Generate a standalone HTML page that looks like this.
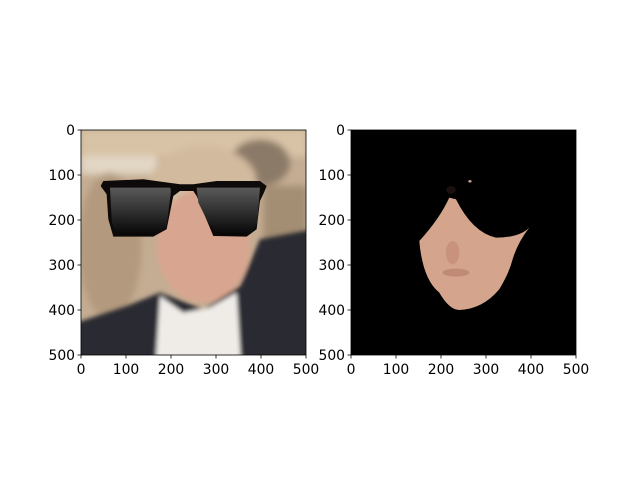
<!DOCTYPE html>
<html><head><meta charset="utf-8"><style>
body{margin:0;background:#fff;width:640px;height:480px;overflow:hidden}
svg text{font-family:"DejaVu Sans","Liberation Sans",sans-serif;font-size:13.9px;fill:#000}
</style></head><body>
<svg id="fig" width="640" height="480">
<defs>
<linearGradient id="lens" x1="0" y1="0" x2="0" y2="1"><stop offset="0" stop-color="#5a5a5a"/><stop offset="1" stop-color="#050505"/></linearGradient>
<filter id="blur"><feGaussianBlur stdDeviation="10"/></filter>
<filter id="blur2"><feGaussianBlur stdDeviation="6"/></filter>
<clipPath id="cl"><rect x="0" y="0" width="500" height="500"/></clipPath>
</defs>
<svg x="81" y="130" width="225" height="225" viewBox="0 0 500 500" preserveAspectRatio="none">
<g clip-path="url(#cl)"><g transform="translate(-46.7,-23.8) scale(0.7407)">
<rect x="0" y="0" width="800" height="800" fill="#c4ad92"/>
<g filter="url(#blur)">
<rect x="62" y="32" width="680" height="80" fill="#d8c3a6"/>
<rect x="62" y="110" width="230" height="55" fill="#e2d6c4"/>
<ellipse cx="150" cy="380" rx="95" ry="220" fill="#b39a7e"/>
<ellipse cx="600" cy="130" rx="90" ry="70" fill="#8c7a68"/>
<rect x="610" y="200" width="130" height="360" fill="#a38d73"/>
<ellipse cx="430" cy="190" rx="160" ry="110" fill="#d2ba9e"/>
</g>
<g filter="url(#blur2)">
<ellipse cx="430" cy="380" rx="140" ry="170" fill="#d8a690"/>
<polygon points="20,620 200,560 300,520 430,570 540,500 600,360 760,330 760,760 20,760" fill="#2c2c31"/>
<polygon points="300,530 370,580 450,565 530,520 545,760 285,760" fill="#efece8"/>
</g>
<path d="M122,200 L130,185 L250,180 L360,195 L400,195 L470,185 L600,185 L620,200 L612,220 L600,245 L590,330 L560,352 L460,350 L410,230 L400,215 L360,215 L340,230 L320,330 L280,352 L160,352 L145,300 L140,225 Z" fill="#0e0a0a"/>
<path d="M150,205 L330,205 Q335,210 330,240 L320,320 Q300,348 250,348 L190,348 Q160,345 155,300 Z" fill="url(#lens)"/>
<path d="M410,205 L600,205 L592,310 Q580,348 540,348 L490,348 Q465,345 440,300 L415,250 Z" fill="url(#lens)"/>
</g></g></svg>
<svg x="351" y="130" width="225" height="225" viewBox="0 0 500 500" preserveAspectRatio="none">
<rect x="0" y="0" width="500" height="500" fill="#000"/>
<g transform="translate(-26,-23.8) scale(0.7407)">
<path d="M330,235 Q300,300 240,365 Q250,480 300,520 Q330,572 360,572 Q430,570 480,510 Q510,460 520,420 Q535,370 570,325 Q540,355 470,355 Q400,340 350,240 Z" fill="#d4a48c"/>
<ellipse cx="335" cy="212" rx="14" ry="12" fill="#1a1010"/>
<ellipse cx="350" cy="460" rx="40" ry="12" fill="#c08a76"/>
<ellipse cx="340" cy="400" rx="20" ry="35" fill="#c8927c"/>
<ellipse cx="392" cy="186" rx="5" ry="4" fill="#c8a090"/>
</g></svg>
<g id="axes" stroke="#000" stroke-width="0.8" fill="none">
<rect x="81" y="130" width="225" height="225"/>
<rect x="351" y="130" width="225" height="225"/>
</g>
<g id="ticks"></g>
</svg>
<script>
const ticks=[0,100,200,300,400,500];
const g=document.getElementById('ticks');
const ns='http://www.w3.org/2000/svg';
function el(t,a,p){const e=document.createElementNS(ns,t);for(const k in a)e.setAttribute(k,a[k]);p.appendChild(e);return e;}
[81,351].forEach((x0,ai)=>{
 const y0=130,s=225/500;
 ticks.forEach(v=>{
  const x=x0+v*s,y=y0+v*s;
  const l1=el('line',{x1:x,y1:355,x2:x,y2:358.5,stroke:'#000','stroke-width':0.8},g);
  
  
  const t1=el('text',{x:x,y:374,'text-anchor':'middle'},g);t1.textContent=v;
  
  
  const l2=el('line',{x1:x0,y1:y,x2:x0-3.5,y2:y,stroke:'#000','stroke-width':0.8},g);
  
  
  const t2=el('text',{x:x0-6,y:y+5,'text-anchor':'end'},g);t2.textContent=v;
  
  
 });
});
</script>
</body></html>
